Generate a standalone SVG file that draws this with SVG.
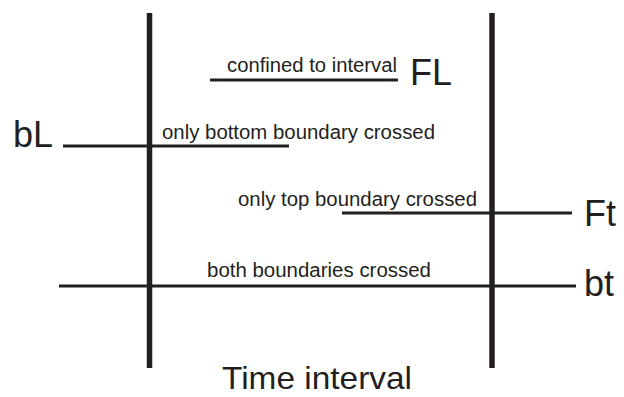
<svg xmlns="http://www.w3.org/2000/svg" width="624" height="397" viewBox="0 0 624 397">
<style>
.bound{stroke:#231f20;stroke-width:5.5;fill:none}
.path{stroke:#231f20;stroke-width:3;fill:none}
.small{font-family:"Liberation Sans",Arial,sans-serif;font-size:19.5px;fill:#231f20}
.big{font-family:"Liberation Sans",Arial,sans-serif;font-size:36px;fill:#231f20}
</style>
<rect width="624" height="397" fill="#fff"/>
<g id="boundaries">
<line class="bound" x1="149.5" y1="13" x2="149.5" y2="368"/>
<line class="bound" x1="492" y1="13" x2="492" y2="368"/>
</g>
<g id="connectors">
<line class="path" x1="210" y1="80" x2="398" y2="80"/>
<line class="path" x1="63" y1="146" x2="289" y2="146"/>
<line class="path" x1="342" y1="213" x2="572" y2="213"/>
<line class="path" x1="59" y1="286" x2="576" y2="286"/>
</g>
<g id="FL">
<text class="small" x="227" y="72" textLength="170" lengthAdjust="spacingAndGlyphs">confined to interval</text>
<text class="big" x="410" y="85">FL</text>
</g>
<g id="bL">
<text class="big" x="13" y="147">bL</text>
<text class="small" x="162" y="139" textLength="273" lengthAdjust="spacingAndGlyphs">only bottom boundary crossed</text>
</g>
<g id="Ft">
<text class="small" x="238" y="206" textLength="239" lengthAdjust="spacingAndGlyphs">only top boundary crossed</text>
<text class="big" x="584" y="226">Ft</text>
</g>
<g id="bt">
<text class="small" x="207" y="277" textLength="224" lengthAdjust="spacingAndGlyphs">both boundaries crossed</text>
<text class="big" x="584" y="296">bt</text>
</g>
<g id="label">
<text class="big" x="222" y="389" textLength="190" lengthAdjust="spacingAndGlyphs" style="font-size:32px">Time interval</text>
</g>
</svg>
